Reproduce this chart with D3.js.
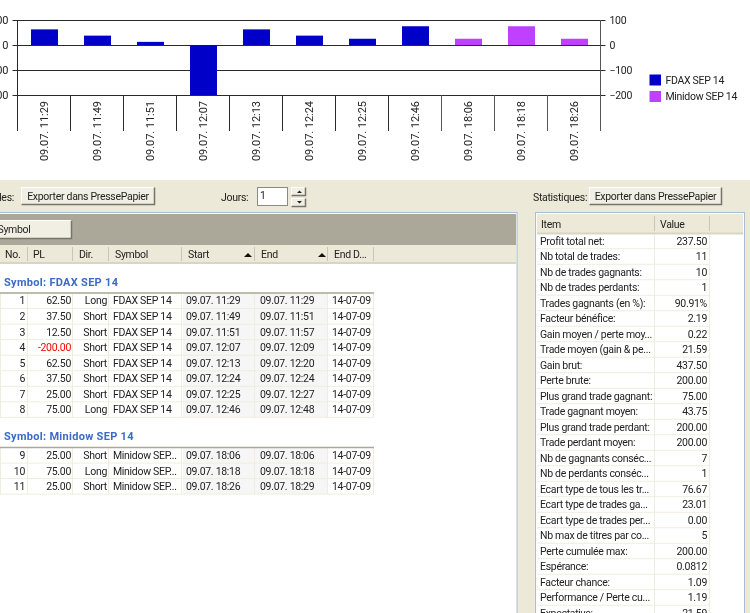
<!DOCTYPE html>
<html>
<head>
<meta charset="utf-8">
<script src="https://cdn.jsdelivr.net/npm/d3@7"></script>
<style>
body { margin: 0; background: #fff; overflow: hidden; }
svg { display: block; filter: blur(0.3px); }
text { font-family: Roboto, "Liberation Sans", sans-serif; font-size: 10.5px; fill: #222; letter-spacing: -0.3px; }
.tick-label { font-size: 11px; letter-spacing: -0.05px; }
.group-title { font-size: 11px; font-weight: bold; letter-spacing: 0.3px; fill: #3a6bc8; }
</style>
</head>
<body>
<div id="chart"></div>
<script>
// bar chart data
const barLabels = ["09.07. 11:29", "09.07. 11:49", "09.07. 11:51", "09.07. 12:07", "09.07. 12:13", "09.07. 12:24", "09.07. 12:25", "09.07. 12:46", "09.07. 18:06", "09.07. 18:18", "09.07. 18:26"];
const barValues = [62.5, 37.5, 12.5, -200, 62.5, 37.5, 25, 75, 25, 75, 25];
const barSymbols = ["FDAX SEP 14", "FDAX SEP 14", "FDAX SEP 14", "FDAX SEP 14", "FDAX SEP 14", "FDAX SEP 14", "FDAX SEP 14", "FDAX SEP 14", "Minidow SEP 14", "Minidow SEP 14", "Minidow SEP 14"];
const legendNames = ["FDAX SEP 14", "Minidow SEP 14"];
const legendColors = ["#0000c8", "#c040ff"];
const yTicks = [100, 0, -100, -200];

// trades table
const tradeNo = [1, 2, 3, 4, 5, 6, 7, 8, 9, 10, 11];
const tradePL = ["62.50", "37.50", "12.50", "-200.00", "62.50", "37.50", "25.00", "75.00", "25.00", "75.00", "25.00"];
const tradeDir = ["Long", "Short", "Short", "Short", "Short", "Short", "Short", "Long", "Short", "Long", "Short"];
const tradeSymbol = ["FDAX SEP 14", "FDAX SEP 14", "FDAX SEP 14", "FDAX SEP 14", "FDAX SEP 14", "FDAX SEP 14", "FDAX SEP 14", "FDAX SEP 14", "Minidow SEP...", "Minidow SEP...", "Minidow SEP..."];
const tradeStart = ["09.07. 11:29", "09.07. 11:49", "09.07. 11:51", "09.07. 12:07", "09.07. 12:13", "09.07. 12:24", "09.07. 12:25", "09.07. 12:46", "09.07. 18:06", "09.07. 18:18", "09.07. 18:26"];
const tradeEnd = ["09.07. 11:29", "09.07. 11:51", "09.07. 11:57", "09.07. 12:09", "09.07. 12:20", "09.07. 12:24", "09.07. 12:27", "09.07. 12:48", "09.07. 18:06", "09.07. 18:18", "09.07. 18:29"];
const tradeEndDate = ["14-07-09", "14-07-09", "14-07-09", "14-07-09", "14-07-09", "14-07-09", "14-07-09", "14-07-09", "14-07-09", "14-07-09", "14-07-09"];
const tradeHeaders = ["No.", "PL", "Dir.", "Symbol", "Start", "End", "End D..."];

// statistics table
const statItems = ["Profit total net:", "Nb total de trades:", "Nb de trades gagnants:", "Nb de trades perdants:", "Trades gagnants (en %):", "Facteur bénéfice:", "Gain moyen / perte moy...", "Trade moyen (gain & pe...", "Gain brut:", "Perte brute:", "Plus grand trade gagnant:", "Trade gagnant moyen:", "Plus grand trade perdant:", "Trade perdant moyen:", "Nb de gagnants conséc...", "Nb de perdants conséc...", "Ecart type de tous les tr...", "Ecart type de trades ga...", "Ecart type de trades per...", "Nb max de titres par co...", "Perte cumulée max:", "Espérance:", "Facteur chance:", "Performance / Perte cu...", "Expectative:"];
const statValues = ["237.50", "11", "10", "1", "90.91%", "2.19", "0.22", "21.59", "437.50", "200.00", "75.00", "43.75", "200.00", "200.00", "7", "1", "76.67", "23.01", "0.00", "5", "200.00", "0.0812", "1.09", "1.19", "21.59"];

const face = "#ece9d8", grid = "#efedde", dark = "#2a2a2a";

const svg = d3.select("#chart").append("svg")
    .attr("width", 750)
    .attr("height", 613);

// ---- chart ----
const x = d3.scaleBand().domain(barLabels).range([17.5, 600.5]);
const y = d3.scaleLinear().domain([-200, 100]).range([95, 20]);
const color = d3.scaleOrdinal().domain(legendNames).range(legendColors);

// grid lines and left ticks
svg.append("g")
    .attr("transform", "translate(17.5,0)")
    .call(d3.axisLeft(y).tickValues(yTicks).tickSize(-583).tickFormat(""))
    .call(g => g.selectAll("line").attr("stroke", dark).attr("shape-rendering", "crispEdges"))
    .call(g => g.select(".domain").remove());

svg.append("g")
    .attr("transform", "translate(17.5,0)")
    .call(d3.axisLeft(y).tickValues(yTicks).tickSize(5).tickPadding(4))
    .call(g => g.selectAll("line").attr("stroke", dark))
    .call(g => g.select(".domain").remove())
    .call(g => g.selectAll("text").attr("class", "tick-label"));

svg.append("g")
    .attr("transform", "translate(600.5,0)")
    .call(d3.axisRight(y).tickValues(yTicks).tickSize(5).tickPadding(4))
    .call(g => g.selectAll("line").attr("stroke", dark))
    .call(g => g.select(".domain").remove());

// the lines between the categories run from the top of the plot to the label area
const edges = barLabels.map(d => x(d)).concat(x.range()[1]);
svg.append("g").selectAll("line")
    .data(edges)
    .join("line")
    .attr("x1", d => d)
    .attr("x2", d => d)
    .attr("y1", (d, i) => (i === 0 || i === edges.length - 1) ? y(100) : y(-200))
    .attr("y2", 131)
    .attr("stroke", (d, i) => i > 7 ? "#555" : dark);

svg.append("g").selectAll("rect")
    .data(barValues)
    .join("rect")
    .attr("x", (d, i) => x(barLabels[i]) + 13.5)
    .attr("width", 27)
    .attr("y", d => y(Math.max(0, d)))
    .attr("height", d => Math.abs(y(d) - y(0)))
    .attr("fill", (d, i) => color(barSymbols[i]));

svg.append("g").selectAll("text")
    .data(barLabels)
    .join("text")
    .attr("class", "tick-label")
    .attr("transform", d => "translate(" + (x(d) + x.bandwidth() / 2 + 0.5) + ",101) rotate(-90)")
    .attr("text-anchor", "end")
    .attr("dy", "0.35em")
    .text(d => d);

// legend
const legend = svg.append("g").selectAll("g")
    .data(legendNames)
    .join("g")
    .attr("transform", (d, i) => "translate(649.5," + (74.5 + i * 16.5) + ")");
legend.append("rect")
    .attr("width", 11.5)
    .attr("height", 11)
    .attr("fill", d => color(d));
legend.append("text")
    .attr("x", 16)
    .attr("y", 5.5)
    .attr("dy", "0.35em")
    .text(d => d);

// ---- window background ----
svg.append("rect").attr("y", 180).attr("width", 750).attr("height", 433).attr("fill", face);

function button(g, bx, by, w, h, label) {
    g.append("rect").attr("x", bx).attr("y", by).attr("width", w).attr("height", h).attr("fill", "#f1efe4");
    g.append("path").attr("d", `M${bx + .5} ${by + h - .5}V${by + .5}H${bx + w - .5}`).attr("fill", "none").attr("stroke", "#fff");
    g.append("path").attr("d", `M${bx + .5} ${by + h - .5}H${bx + w - .5}V${by + .5}`).attr("fill", "none").attr("stroke", "#77756a").attr("stroke-width", 1.5);
    if (label) {
        g.append("text").attr("x", bx + w / 2).attr("y", by + h / 2).attr("dy", "0.35em")
            .attr("text-anchor", "middle").text(label);
    }
}

const tools = svg.append("g");
tools.append("text").attr("x", 14).attr("y", 197).attr("dy", "0.35em").attr("text-anchor", "end").text("Trades:");
button(tools, 21, 187, 134, 18, "Exporter dans PressePapier");
tools.append("text").attr("x", 221).attr("y", 197).attr("dy", "0.35em").text("Jours:");
tools.append("rect").attr("x", 257.5).attr("y", 187.5).attr("width", 30).attr("height", 18).attr("fill", "#fff").attr("stroke", "#8d8b7e");
tools.append("text").attr("x", 260).attr("y", 195).attr("dy", "0.35em").text("1");
button(tools, 291, 187, 15, 9);
button(tools, 291, 198, 15, 9);
tools.append("path").attr("d", "M297 193h5l-2.5 -2.5z M297 201h5l-2.5 2.5z").attr("fill", "#222");
tools.append("text").attr("x", 533).attr("y", 197).attr("dy", "0.35em").text("Statistiques:");
button(tools, 589, 187, 133, 18, "Exporter dans PressePapier");

// ---- trades panel ----
const tradesPanel = svg.append("g");
tradesPanel.append("rect").attr("x", -2).attr("y", 212.5).attr("width", 519).attr("height", 404).attr("fill", "#fff").attr("stroke", "#a8bed4");
tradesPanel.append("rect").attr("x", 0).attr("y", 214).attr("width", 516).attr("height", 31).attr("fill", "#aca899");
button(tradesPanel, -20, 220, 92, 19);
tradesPanel.append("text").attr("x", -2.5).attr("y", 229.5).attr("dy", "0.35em").text("Symbol");
tradesPanel.append("rect").attr("x", 0).attr("y", 245).attr("width", 516).attr("height", 18).attr("fill", face);
tradesPanel.append("line").attr("x1", 0).attr("x2", 516).attr("y1", 263).attr("y2", 263).attr("stroke", "#d8d5c4").attr("stroke-width", 2);

const colEdges = [1, 28, 73, 109, 182, 255, 328, 374];
const headerX = [5, 33, 79, 115, 188, 261, 334];
tradesPanel.append("g").selectAll("line").data(colEdges.slice(1)).join("line")
    .attr("x1", d => d - .5).attr("x2", d => d - .5).attr("y1", 247).attr("y2", 261).attr("stroke", "#c9c6b4");
tradesPanel.append("g").selectAll("text").data(tradeHeaders).join("text")
    .attr("x", (d, i) => headerX[i]).attr("y", 254.5).attr("dy", "0.35em").text(d => d);
tradesPanel.append("path").attr("d", "M244 257h8l-4 -4z M318 257h8l-4 -4z").attr("fill", "#111");

function tradeGroup(title, titleY, lineY, firstIdx, lastIdx) {
    const g = svg.append("g");
    const idx = d3.range(firstIdx, lastIdx + 1);
    const rowH = 15.55;
    const rowY = i => lineY + rowH * (i - firstIdx);
    const bottom = rowY(lastIdx + 1);
    g.append("text").attr("class", "group-title").attr("x", 4).attr("y", titleY).attr("dy", "0.35em").text(title);
    // date columns have a light grey background
    g.append("rect").attr("x", 183).attr("y", lineY).attr("width", 145).attr("height", bottom - lineY).attr("fill", "#f6f6f6");
    g.append("g").selectAll("line").data(idx.map(rowY).concat(bottom)).join("line")
        .attr("x1", 0).attr("x2", 374).attr("y1", d => d).attr("y2", d => d).attr("stroke", grid);
    g.append("g").selectAll("line").data(colEdges).join("line")
        .attr("x1", d => d - .5).attr("x2", d => d - .5).attr("y1", lineY).attr("y2", bottom).attr("stroke", grid);
    g.append("line").attr("x1", 0).attr("x2", 374).attr("y1", lineY).attr("y2", lineY).attr("stroke", "#aca899").attr("stroke-width", 1.5);

    const cols = [
        { v: tradeNo, x: 25, a: "end" }, { v: tradePL, x: 71, a: "end" }, { v: tradeDir, x: 107, a: "end" },
        { v: tradeSymbol, x: 113, a: "start" }, { v: tradeStart, x: 186, a: "start" },
        { v: tradeEnd, x: 260, a: "start" }, { v: tradeEndDate, x: 332, a: "start" }
    ];
    cols.forEach((c, ci) => {
        g.append("g").selectAll("text").data(idx).join("text")
            .attr("x", c.x).attr("y", i => rowY(i) + rowH / 2).attr("dy", "0.35em")
            .attr("text-anchor", c.a)
            .style("fill", i => (ci === 1 && tradePL[i][0] === "-") ? "#ff0000" : null)
            .text(i => c.v[i]);
    });
}
tradeGroup("Symbol: FDAX SEP 14", 282, 293, 0, 7);
tradeGroup("Symbol: Minidow SEP 14", 436, 447.5, 8, 10);

// ---- statistics panel ----
const stats = svg.append("g");
stats.append("rect").attr("x", 535.5).attr("y", 212.5).attr("width", 209).attr("height", 404).attr("fill", "#fff").attr("stroke", "#a8bed4");
stats.append("rect").attr("x", 537).attr("y", 214).attr("width", 206).attr("height", 19).attr("fill", face);
stats.append("line").attr("x1", 537).attr("x2", 743).attr("y1", 233.5).attr("y2", 233.5).attr("stroke", "#d8d5c4").attr("stroke-width", 2);
stats.append("g").selectAll("line").data([654, 709]).join("line")
    .attr("x1", d => d + .5).attr("x2", d => d + .5).attr("y1", 216).attr("y2", 231).attr("stroke", "#c9c6b4");
stats.append("text").attr("x", 541).attr("y", 224.5).attr("dy", "0.35em").text("Item");
stats.append("text").attr("x", 660).attr("y", 224.5).attr("dy", "0.35em").text("Value");

const statY = d3.scaleLinear().domain([0, 24]).range([241, 613]);
stats.append("g").selectAll("line").data(statItems).join("line")
    .attr("x1", 537).attr("x2", 709).attr("y1", (d, i) => statY(i) + 7.75).attr("y2", (d, i) => statY(i) + 7.75).attr("stroke", grid);
stats.append("g").selectAll("line").data([654.5, 709.5]).join("line")
    .attr("x1", d => d).attr("x2", d => d).attr("y1", 234).attr("y2", 613).attr("stroke", grid);
stats.append("g").selectAll("text").data(statItems).join("text")
    .attr("x", 540).attr("y", (d, i) => statY(i)).attr("dy", "0.35em").text(d => d);
stats.append("g").selectAll("text").data(statValues).join("text")
    .attr("x", 707).attr("y", (d, i) => statY(i)).attr("dy", "0.35em").attr("text-anchor", "end").text(d => d);
</script>
</body>
</html>
